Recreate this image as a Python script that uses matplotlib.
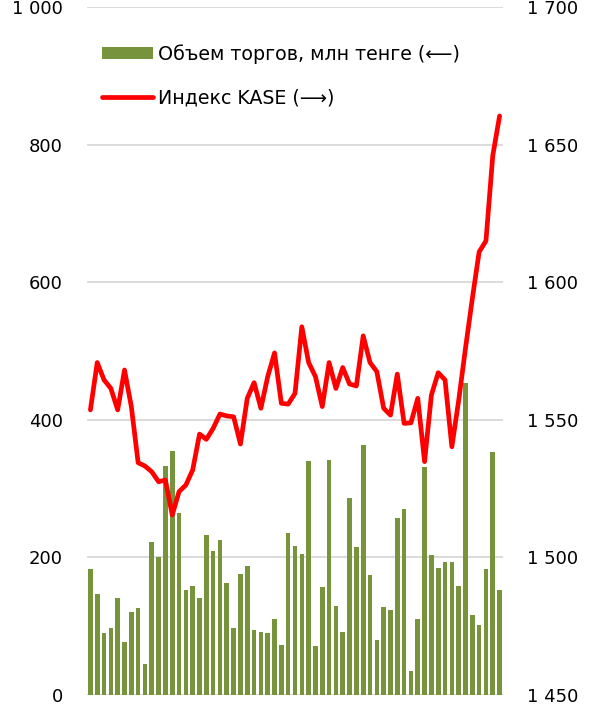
import matplotlib
matplotlib.use("Agg")
import matplotlib.pyplot as plt
import numpy as np

plt.rcParams['font.family'] = ['DejaVu Sans']
FS = 13
LFS = 13.7

volume = [183, 147, 90, 97, 141, 77, 121, 126, 45, 222,
          201, 333, 354, 264, 153, 158, 141, 232, 210, 225,
          163, 97, 176, 187, 95, 92, 90, 110, 73, 235,
          216, 205, 340, 71, 157, 341, 129, 92, 287, 215,
          363, 174, 80, 128, 123, 257, 270, 35, 110, 331,
          204, 184, 194, 193, 159, 453, 116, 102, 183, 353,
          152]
kase = [1553.6, 1570.8, 1564.5, 1561.4, 1553.6, 1568.1, 1554.8, 1534.4, 1533.2, 1531.1,
        1527.5, 1528.1, 1515.4, 1523.9, 1526.3, 1531.8, 1544.8, 1542.9, 1546.9, 1552.1,
        1551.4, 1551.1, 1541.2, 1557.8, 1563.5, 1554.2, 1565.7, 1574.3, 1556.0, 1555.7,
        1559.6, 1583.8, 1570.8, 1565.7, 1554.8, 1570.8, 1561.4, 1569.0, 1563.0, 1562.3,
        1580.5, 1570.8, 1567.5, 1554.2, 1551.7, 1566.6, 1548.7, 1548.9, 1557.8, 1534.8,
        1559.0, 1567.1, 1564.5, 1540.2, 1557.0, 1576.0, 1594.0, 1611.0, 1615.0, 1646.0,
        1660.4]
days = list(range(len(volume)))

left_ticks = [0, 200, 400, 600, 800, 1000]
left_labels = ['0', '200', '400', '600', '800', '1 000']
right_ticks = [1450, 1500, 1550, 1600, 1650, 1700]
right_labels = ['1 450', '1 500', '1 550', '1 600', '1 650', '1 700']

label_bar = 'Объем торгов, млн тенге (⟵)'
label_line = 'Индекс KASE (⟶)'

fig = plt.figure(figsize=(5.91, 7.12), dpi=100)
ax = fig.add_axes([87/591, 17/712, 416/591, 688/712])
ax2 = ax.twinx()

bars = ax.bar(days, volume, width=0.68, color='#77933C', label=label_bar, zorder=2)
line, = ax2.plot(days, kase, color='#FF0000', lw=3.4, label=label_line,
                 solid_joinstyle='round', solid_capstyle='round', zorder=3)

ax.set_xlim(-0.5, len(volume) - 0.5)
ax.set_ylim(0, 1000)
ax2.set_ylim(1450, 1700)
ax.set_yticks(left_ticks)
ax.set_yticklabels(left_labels)
ax2.set_yticks(right_ticks)
ax2.set_yticklabels(right_labels)
ax.set_xticks([])

for a in (ax, ax2):
    for s in a.spines.values():
        s.set_visible(False)
    a.tick_params(axis='y', length=0, labelsize=FS, colors='black', pad=17.5)

ax.grid(axis='y', color='#d9d9d9', lw=1.3, zorder=0)
ax.set_axisbelow(True)
ax.axhline(0, color='#d9d9d9', lw=1.3, zorder=1)

px = LFS * 100 / 72
leg = ax2.legend([bars, line], [label_bar, label_line], loc='upper left',
                 bbox_to_anchor=(0.036, 0.946), frameon=False, fontsize=LFS,
                 handlelength=51/px, handleheight=12/px,
                 handletextpad=5/px,
                 labelspacing=1.28, borderaxespad=0, borderpad=0)

fig.savefig('out.png', dpi=100)
